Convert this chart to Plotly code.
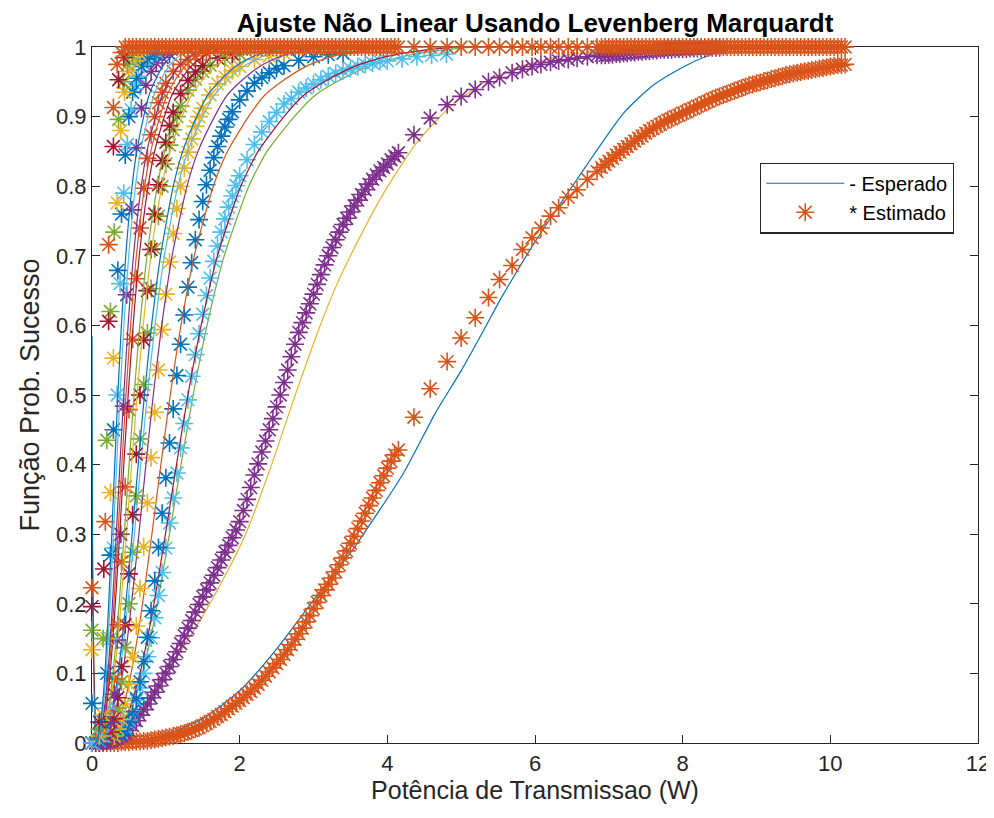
import plotly.graph_objects as go

# MATLAB default colour order
COLORS = ["#0072BD", "#D95319", "#EDB120", "#7E2F8E", "#77AC30", "#4DBEEE", "#A2142F"]

# shared sampling grid of transmit power (W) used by the long series
P_GRID_A = [round(0.05 * i, 2) for i in range(84)]          # 0.00 .. 4.15
P_SPARSE = [4.36, 4.58, 4.81, 5.0, 5.19, 5.37, 5.52, 5.69, 5.83, 5.96, 6.08, 6.21,
            6.32, 6.45, 6.57, 6.71, 6.84]
P_GRID_B = [round(6.9 + 0.05 * i, 2) for i in range(67)]    # 6.90 .. 10.20

# ---------------- pair 1 ----------------
EXP1_X = [0, 0.5, 1.0, 1.5, 2.0, 2.5, 3.07, 3.5, 4.22, 4.65, 5.0, 5.31, 5.53, 6.0, 6.57,
          7.2, 7.6, 8.02, 8.28, 8.6, 9.0, 10.2]
EXP1_Y = [0, 0.002, 0.012, 0.035, 0.075, 0.135, 0.215, 0.273, 0.388, 0.474, 0.535, 0.594,
          0.637, 0.72, 0.81, 0.905, 0.945, 0.972, 0.985, 0.996, 1.0, 1.0]
EST1_YA = [0, 0, 0, 0, 0, 0, 0, 0, 0.001, 0.001, 0.001, 0.002, 0.002, 0.002, 0.003, 0.003,
           0.004, 0.005, 0.006, 0.007, 0.008, 0.009, 0.010, 0.011, 0.013, 0.014, 0.016, 0.018,
           0.020, 0.022, 0.025, 0.028, 0.031, 0.034, 0.038, 0.041, 0.045, 0.049, 0.053, 0.057,
           0.061, 0.065, 0.070, 0.074, 0.079, 0.084, 0.090, 0.096, 0.102, 0.108, 0.114, 0.120,
           0.127, 0.134, 0.141, 0.149, 0.157, 0.165, 0.174, 0.183, 0.193, 0.202, 0.212, 0.220,
           0.228, 0.237, 0.246, 0.256, 0.266, 0.276, 0.287, 0.297, 0.308, 0.319, 0.330, 0.341,
           0.352, 0.363, 0.374, 0.384, 0.395, 0.405, 0.414, 0.421]
EST1_YS = [0.468, 0.509, 0.548, 0.582, 0.611, 0.64, 0.666, 0.686, 0.709, 0.726, 0.740,
           0.757, 0.769, 0.784, 0.795, 0.81, 0.821]
EST1_YB = [0.827, 0.831, 0.836, 0.840, 0.845, 0.849, 0.853, 0.857, 0.861, 0.865, 0.869, 0.872,
           0.876, 0.880, 0.883, 0.886, 0.889, 0.892, 0.895, 0.897, 0.900, 0.902,
           0.905, 0.907, 0.910, 0.912, 0.915, 0.917, 0.920, 0.922, 0.925, 0.927,
           0.929, 0.931, 0.933, 0.935, 0.937, 0.939, 0.941, 0.943, 0.945, 0.946,
           0.948, 0.949, 0.951, 0.952, 0.954, 0.955, 0.957, 0.958, 0.960, 0.961,
           0.962, 0.963, 0.964, 0.965, 0.966, 0.967, 0.968, 0.969, 0.970, 0.971,
           0.972, 0.973, 0.974, 0.974, 0.975]

# ---------------- pair 2 ----------------
EXP2_X = [0, 0.3, 0.72, 1.04, 1.4, 1.75, 2.08, 2.4, 2.73, 3.07, 3.3, 3.5, 3.95, 4.4, 4.86,
          5.31, 5.8, 6.3, 7.0, 7.5, 10.2]
EXP2_Y = [0, 0.005, 0.047, 0.105, 0.165, 0.23, 0.30, 0.39, 0.493, 0.594, 0.655, 0.70, 0.79,
          0.863, 0.915, 0.949, 0.972, 0.986, 0.996, 1.0, 1.0]
EST2_YA = [0, 0, 0, 0.001, 0.002, 0.003, 0.005, 0.007, 0.010, 0.014, 0.018, 0.025, 0.032,
           0.040, 0.048, 0.056, 0.065, 0.073, 0.082, 0.091, 0.100, 0.110, 0.120, 0.131,
           0.143, 0.154, 0.165, 0.176, 0.188, 0.199, 0.210, 0.220, 0.230, 0.241, 0.252,
           0.263, 0.274, 0.284, 0.295, 0.306, 0.318, 0.334, 0.350, 0.367, 0.385, 0.401,
           0.418, 0.434, 0.450, 0.466, 0.483, 0.500, 0.518, 0.536, 0.555, 0.573, 0.590,
           0.604, 0.618, 0.631, 0.645, 0.659, 0.673, 0.687, 0.700, 0.712, 0.723, 0.734,
           0.745, 0.754, 0.763, 0.772, 0.780, 0.788, 0.795, 0.803, 0.810, 0.816, 0.822,
           0.827, 0.832, 0.838, 0.843, 0.848]
EST2_YS = [0.874, 0.898, 0.917, 0.929, 0.939, 0.950, 0.956, 0.963, 0.968, 0.972, 0.975,
           0.978, 0.980, 0.982, 0.984, 0.986, 0.988]
EST2_YB = [0.988, 0.988, 0.989, 0.989, 0.990, 0.990, 0.991, 0.991, 0.992, 0.992, 0.993,
           0.993, 0.994, 0.994, 0.995, 0.995, 0.996, 0.996, 0.996, 0.996, 0.997, 0.997,
           0.997, 0.997, 0.998, 0.998, 0.998, 0.998, 0.998, 0.999, 0.999, 0.999, 0.999]

# ---------------- expected curves of pairs 3..15 (x read at fixed probability levels) ---
LEVELS = [0.002, 0.01, 0.02, 0.05, 0.1, 0.15, 0.2, 0.3, 0.4, 0.5, 0.6, 0.7, 0.8, 0.85, 0.9,
          0.93, 0.95, 0.97, 0.98, 0.99, 1.0]
EXP_LEVEL_X = [
    [0.206, 0.321, 0.40, 0.54, 0.684, 0.792, 0.884, 1.048, 1.206, 1.37, 1.558, 1.791, 2.124, 2.37, 2.74, 3.014, 3.315, 3.699, 3.973, 4.384, 5.206],
    [0.195, 0.304, 0.38, 0.512, 0.649, 0.751, 0.839, 0.995, 1.144, 1.30, 1.478, 1.699, 2.015, 2.249, 2.60, 2.86, 3.146, 3.51, 3.77, 4.16, 4.94],
    [0.159, 0.248, 0.31, 0.418, 0.529, 0.613, 0.684, 0.811, 0.933, 1.06, 1.205, 1.385, 1.643, 1.834, 2.12, 2.332, 2.565, 2.862, 3.074, 3.392, 4.028],
    [0.125, 0.194, 0.242, 0.327, 0.414, 0.48, 0.535, 0.635, 0.73, 0.83, 0.944, 1.085, 1.287, 1.436, 1.66, 1.826, 2.009, 2.241, 2.407, 2.656, 3.154],
    [0.113, 0.176, 0.219, 0.296, 0.374, 0.434, 0.484, 0.574, 0.66, 0.75, 0.853, 0.98, 1.163, 1.298, 1.50, 1.65, 1.815, 2.025, 2.175, 2.40, 2.85],
    [0.107, 0.166, 0.207, 0.28, 0.354, 0.41, 0.458, 0.543, 0.625, 0.71, 0.807, 0.928, 1.101, 1.228, 1.42, 1.562, 1.718, 1.917, 2.059, 2.272, 2.698],
    [0.092, 0.143, 0.178, 0.24, 0.304, 0.353, 0.393, 0.467, 0.537, 0.61, 0.694, 0.797, 0.946, 1.055, 1.22, 1.342, 1.476, 1.647, 1.769, 1.952, 2.318],
    [0.086, 0.133, 0.166, 0.225, 0.284, 0.329, 0.368, 0.436, 0.502, 0.57, 0.648, 0.745, 0.884, 0.986, 1.14, 1.254, 1.379, 1.539, 1.653, 1.824, 2.166],
    [0.074, 0.115, 0.143, 0.193, 0.245, 0.283, 0.316, 0.375, 0.431, 0.49, 0.557, 0.64, 0.76, 0.848, 0.98, 1.078, 1.186, 1.323, 1.421, 1.568, 1.862],
    [0.069, 0.108, 0.134, 0.181, 0.23, 0.266, 0.297, 0.352, 0.405, 0.46, 0.523, 0.601, 0.713, 0.796, 0.92, 1.012, 1.113, 1.242, 1.334, 1.472, 1.748],
    [0.065, 0.101, 0.126, 0.169, 0.215, 0.249, 0.277, 0.329, 0.378, 0.43, 0.489, 0.562, 0.667, 0.744, 0.86, 0.946, 1.041, 1.161, 1.247, 1.376, 1.634],
    [0.057, 0.089, 0.111, 0.15, 0.19, 0.22, 0.245, 0.291, 0.334, 0.38, 0.432, 0.497, 0.589, 0.657, 0.76, 0.836, 0.92, 1.026, 1.102, 1.216, 1.444],
    [0.053, 0.082, 0.102, 0.138, 0.175, 0.202, 0.226, 0.268, 0.308, 0.35, 0.398, 0.457, 0.543, 0.606, 0.70, 0.77, 0.847, 0.945, 1.015, 1.12, 1.33],
]
EXP_START_Y = [0, 0, 0, 0, 0, 0, 0, 0, 0.32, 0, 0, 0, 0.585]   # value at P = 0
P_END = 10.2

# ---------------- estimated points of pairs 3..15 ----------------
EST3_X = [0, 0.40, 0.45, 0.50, 0.55, 0.60, 0.65, 0.70, 0.75, 0.80, 0.85, 0.90, 0.95, 1.00, 1.05, 1.10,
          1.15, 1.20, 1.25, 1.30, 1.35, 1.40, 1.45, 1.50, 1.55, 1.60, 1.65, 1.70, 1.75, 1.80,
          1.85, 1.90, 1.95, 2.00, 2.1, 2.2, 2.3, 2.4, 2.5, 2.6, 2.7, 2.8, 2.9, 3.0, 3.1, 3.2,
          3.3, 3.4, 3.5, 3.6, 3.7, 3.8, 3.9, 4.0, 4.2, 4.4, 4.6, 4.8]
EST3_Y = [0, 0.015, 0.023, 0.033, 0.046, 0.061, 0.079, 0.100, 0.124, 0.151, 0.180, 0.212, 0.245,
          0.280, 0.316, 0.352, 0.388, 0.424, 0.459, 0.493, 0.527, 0.558, 0.588, 0.616, 0.643,
          0.668, 0.692, 0.714, 0.734, 0.753, 0.770, 0.786, 0.801, 0.815, 0.838, 0.86, 0.878,
          0.893, 0.906, 0.918, 0.926, 0.935, 0.941, 0.947, 0.953, 0.958, 0.962, 0.966, 0.969,
          0.972, 0.975, 0.977, 0.979, 0.98, 0.983, 0.986, 0.988, 0.99]
EST4_X = [0, 0.40, 0.45, 0.50, 0.55, 0.60, 0.65, 0.70, 0.75, 0.80, 0.85, 0.90, 0.95, 1.00, 1.05, 1.10,
          1.15, 1.20, 1.25, 1.30, 1.35, 1.40, 1.45, 1.50, 1.55, 1.60, 1.65, 1.70, 1.75, 1.80,
          1.85, 1.90, 2.0, 2.1, 2.2, 2.3, 2.4, 2.5, 2.6, 2.8, 3.0, 3.2, 3.4]
EST4_Y = [0, 0.012, 0.019, 0.030, 0.045, 0.064, 0.088, 0.117, 0.152, 0.19, 0.233, 0.281, 0.33, 0.381,
          0.431, 0.48, 0.528, 0.573, 0.615, 0.655, 0.69, 0.723, 0.752, 0.778, 0.802, 0.823,
          0.841, 0.857, 0.872, 0.885, 0.896, 0.907, 0.924, 0.937, 0.948, 0.956, 0.963, 0.969,
          0.973, 0.981, 0.986, 0.989, 0.991]
EST5_X = [0, 0.30, 0.35, 0.40, 0.45, 0.50, 0.55, 0.60, 0.65, 0.70, 0.75, 0.80, 0.85, 0.90, 0.95, 1.00,
          1.05, 1.10, 1.15, 1.20, 1.25, 1.30, 1.35, 1.40, 1.45, 1.50, 1.6, 1.7, 1.8, 1.9, 2.0,
          2.2, 2.4, 2.6]
EST5_Y = [0, 0.01, 0.02, 0.034, 0.056, 0.085, 0.123, 0.168, 0.222, 0.282, 0.345, 0.41, 0.475, 0.536,
          0.594, 0.645, 0.691, 0.732, 0.768, 0.80, 0.826, 0.849, 0.868, 0.886, 0.90, 0.912,
          0.931, 0.947, 0.957, 0.966, 0.972, 0.982, 0.987, 0.991]
EST6_X = [0, 0.25, 0.30, 0.35, 0.40, 0.45, 0.50, 0.55, 0.60, 0.65, 0.70, 0.75, 0.80, 0.85, 0.90, 0.95,
          1.00, 1.05, 1.10, 1.15, 1.20, 1.3, 1.4, 1.5, 1.6, 1.8, 2.0]
EST6_Y = [0, 0.013, 0.027, 0.05, 0.088, 0.137, 0.2, 0.274, 0.355, 0.437, 0.515, 0.589, 0.653, 0.71,
          0.757, 0.80, 0.832, 0.859, 0.881, 0.90, 0.915, 0.938, 0.954, 0.965, 0.974, 0.984, 0.99]
EST7_X = [0, 0.25, 0.30, 0.35, 0.40, 0.45, 0.50, 0.55, 0.60, 0.65, 0.70, 0.75, 0.80, 0.85, 0.90, 0.95,
          1.00, 1.05, 1.10, 1.2, 1.3, 1.4, 1.5, 1.7, 1.9]
EST7_Y = [0, 0.016, 0.035, 0.065, 0.11, 0.17, 0.243, 0.328, 0.415, 0.5, 0.579, 0.65, 0.709, 0.76,
          0.802, 0.837, 0.863, 0.887, 0.906, 0.933, 0.952, 0.964, 0.973, 0.984, 0.99]
EST8_X = [0, 0.20, 0.25, 0.30, 0.35, 0.40, 0.45, 0.50, 0.55, 0.60, 0.65, 0.70, 0.75, 0.80, 0.85, 0.90,
          0.95, 1.00, 1.1, 1.2, 1.3, 1.4, 1.55]
EST8_Y = [0, 0.017, 0.045, 0.092, 0.17, 0.26, 0.368, 0.479, 0.58, 0.667, 0.74, 0.797, 0.84, 0.874,
          0.90, 0.92, 0.935, 0.948, 0.965, 0.975, 0.982, 0.987, 0.991]
EST9_X = [0, 0.15, 0.20, 0.25, 0.30, 0.34, 0.39, 0.43, 0.47, 0.54, 0.60, 0.67, 0.73, 0.80, 0.87, 0.95, 1.05]
EST9_Y = [0, 0.004, 0.01, 0.03, 0.07, 0.148, 0.30, 0.484, 0.644, 0.766, 0.855, 0.912, 0.945, 0.965,
          0.977, 0.985, 0.99]
EST10_X = [0, 0.10, 0.15, 0.20, 0.25, 0.29, 0.34, 0.38, 0.43, 0.48, 0.53, 0.58, 0.63, 0.70, 0.78, 0.88]
EST10_Y = [0, 0.003, 0.01, 0.05, 0.15, 0.28, 0.50, 0.66, 0.79, 0.86, 0.91, 0.94, 0.958, 0.975, 0.985, 0.992]
EST11_X = [0.0, 0.10, 0.15, 0.20, 0.25, 0.29, 0.35, 0.40, 0.45, 0.50, 0.55, 0.60, 0.67, 0.75, 0.85]
EST11_Y = [0.057, 0.005, 0.03, 0.10, 0.27, 0.45, 0.679, 0.76, 0.845, 0.90, 0.935, 0.955, 0.972, 0.983, 0.99]
EST12_X = [0.0, 0.10, 0.15, 0.20, 0.25, 0.29, 0.34, 0.39, 0.44, 0.50, 0.57, 0.65]
EST12_Y = [0.134, 0.01, 0.04, 0.15, 0.36, 0.553, 0.776, 0.88, 0.935, 0.965, 0.98, 0.99]
EST13_X = [0.0, 0.10, 0.15, 0.20, 0.25, 0.30, 0.36, 0.42, 0.48, 0.55]
EST13_Y = [0.162, 0.02, 0.15, 0.435, 0.62, 0.734, 0.896, 0.95, 0.975, 0.988]
EST14_X = [0.0, 0.10, 0.16, 0.225, 0.29, 0.36, 0.43]
EST14_Y = [0.196, 0.03, 0.25, 0.606, 0.857, 0.953, 0.985]
EST15_X_RISE = [0.0, 0.18, 0.225, 0.29, 0.34, 0.40]
EST15_Y_RISE = [0.223, 0.318, 0.716, 0.913, 0.975, 0.992]
EST15_X_TOP = P_GRID_A[9:] + P_SPARSE + P_GRID_B
EST15_Y_TOP = [1.0] * len(EST15_X_TOP)      # saturated at 1 over the whole range

# ---------------- assemble series ----------------
exp_x = [EXP1_X, EXP2_X]
exp_y = [EXP1_Y, EXP2_Y]
for xs, y0 in zip(EXP_LEVEL_X, EXP_START_Y):
    exp_x.append([0] + xs + [P_END])
    exp_y.append([y0] + LEVELS + [1.0])

est_x = [P_GRID_A + P_SPARSE + P_GRID_B,
         P_GRID_A + P_SPARSE + P_GRID_B[:len(EST2_YB)],
         EST3_X, EST4_X, EST5_X, EST6_X, EST7_X, EST8_X, EST9_X, EST10_X,
         EST11_X, EST12_X, EST13_X, EST14_X, EST15_X_RISE + EST15_X_TOP]
est_y = [EST1_YA + EST1_YS + EST1_YB,
         EST2_YA + EST2_YS + EST2_YB,
         EST3_Y, EST4_Y, EST5_Y, EST6_Y, EST7_Y, EST8_Y, EST9_Y, EST10_Y,
         EST11_Y, EST12_Y, EST13_Y, EST14_Y, EST15_Y_RISE + EST15_Y_TOP]

FONT = "Liberation Sans, Arial, Helvetica, sans-serif"
AX = "#262626"

# the page body adds an 8 px offset at the top-left, so the figure is sized to suit
FIG_W, FIG_H = 986, 810

fig = go.Figure()
for i in range(15):
    lc = COLORS[(2 * i) % 7]
    mc = COLORS[(2 * i + 1) % 7]
    fig.add_trace(go.Scatter(
        x=exp_x[i], y=exp_y[i], mode="lines", name="- Esperado",
        line=dict(color=lc, width=1.2, shape="spline", smoothing=0.6),
        showlegend=(i == 0), hoverinfo="skip"))
    fig.add_trace(go.Scatter(
        x=est_x[i], y=est_y[i], mode="markers", name="* Estimado",
        marker=dict(symbol="asterisk-open", size=15, color=mc,
                    line=dict(color=mc, width=1.6)),
        cliponaxis=False, showlegend=(i == 0), hoverinfo="skip"))

axis_common = dict(
    showgrid=False, zeroline=False, showline=True, linecolor=AX, linewidth=1.2,
    mirror="ticks", ticks="inside", ticklen=8, tickwidth=1.2, tickcolor=AX,
    tickfont=dict(family=FONT, size=22, color=AX), layer="below traces",
    automargin=False,
)

fig.update_layout(
    width=FIG_W, height=FIG_H,
    margin=dict(l=84, r=16, t=39, b=75, autoexpand=False),
    paper_bgcolor="white", plot_bgcolor="white",
    font=dict(family=FONT, color=AX),
    title=dict(text="<b>Ajuste Não Linear Usando Levenberg Marquardt</b>",
               x=0.5, xref="paper", y=1 - 15 / FIG_H, yref="container", yanchor="middle",
               font=dict(family=FONT, size=26, color="black"), automargin=False),
    xaxis=dict(range=[0, 12], tickmode="array", tickvals=[0, 2, 4, 6, 8, 10, 12],
               title=dict(text="Potência de Transmissao (W)", standoff=4,
                          font=dict(family=FONT, size=25, color=AX)),
               **axis_common),
    yaxis=dict(range=[0, 1], tickmode="array",
               tickvals=[0, 0.1, 0.2, 0.3, 0.4, 0.5, 0.6, 0.7, 0.8, 0.9, 1],
               ticktext=["0", "0.1", "0.2", "0.3", "0.4", "0.5", "0.6", "0.7", "0.8", "0.9", "1"],
               title=dict(text="Função Prob. Sucesso", standoff=8,
                          font=dict(family=FONT, size=27, color=AX)),
               **axis_common),
    legend=dict(x=0.754, y=0.834, xanchor="left", yanchor="top",
                bgcolor="white", bordercolor=AX, borderwidth=1.2,
                font=dict(family=FONT, size=20, color="black"),
                itemwidth=78, tracegroupgap=0),
)

fig.write_html("out.html")
